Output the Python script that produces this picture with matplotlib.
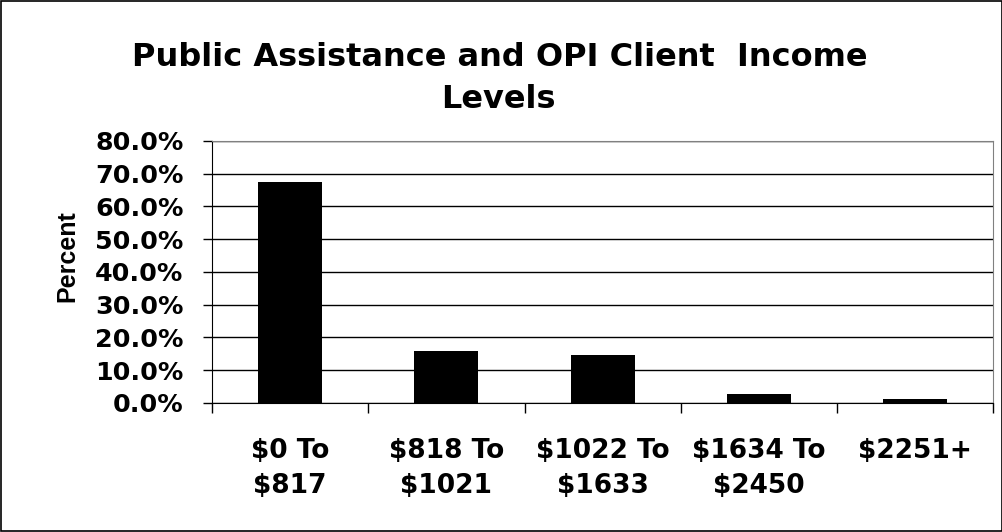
import matplotlib.pyplot as plt
from matplotlib.patches import Rectangle
from matplotlib.ticker import FuncFormatter

categories = ['$0 To\n$817', '$818 To\n$1021', '$1022 To\n$1633', '$1634 To\n$2450', '$2251+']
percents = [67.5, 16.0, 14.7, 2.7, 1.1]
y_ticks = [0, 10, 20, 30, 40, 50, 60, 70, 80]
title_lines = ['Public Assistance and OPI Client  Income', 'Levels']

plt.rcParams['font.family'] = ['DejaVu Sans']
plt.rcParams['font.weight'] = 'bold'

fig = plt.figure(figsize=(10.03, 5.32), dpi=100)
ax = fig.add_axes([0.2114, 0.2425, 0.779, 0.4925])

x = list(range(len(categories)))
ax.bar(x, percents, width=0.41, color='black', zorder=3)

ax.set_xlim(-0.5, len(categories) - 0.5)
ax.set_ylim(0, 80)
ax.set_yticks(y_ticks)
ax.yaxis.set_major_formatter(FuncFormatter(lambda v, p: f'{v:.1f}%'))
ax.tick_params(axis='y', labelsize=18.3, length=6.5, width=1, pad=14)
ax.grid(axis='y', color='black', linewidth=1, zorder=1)

# category boundaries get tick marks, labels sit at centres
ax.set_xticks([i - 0.5 for i in range(len(categories) + 1)])
ax.set_xticklabels([])
ax.tick_params(axis='x', which='major', length=7.5, width=1, direction='out')
ax.set_xticks(x, minor=True)
ax.set_xticklabels(categories, minor=True, fontsize=19, linespacing=1.45)
ax.tick_params(axis='x', which='minor', length=0, pad=25)

for side in ['top', 'right']:
    ax.spines[side].set_color('#808080')
ax.spines['left'].set_color('black')
ax.spines['bottom'].set_color('black')

fig.text(0.0668, 0.5188, 'Percent', rotation=90, ha='center', va='center',
         fontsize=18, fontweight='bold', family='Liberation Sans')

fig.text(0.498, 1 - 66 / 532, title_lines[0], ha='center', va='baseline',
         fontsize=23, fontweight='bold')
fig.text(0.497, 1 - 108 / 532, title_lines[1], ha='center', va='baseline',
         fontsize=23, fontweight='bold')

fig.patches.append(Rectangle((0.001, 0.002), 0.998, 0.996, transform=fig.transFigure,
                             fill=False, edgecolor='black', linewidth=1.2))

fig.savefig('out.png', dpi=100)
